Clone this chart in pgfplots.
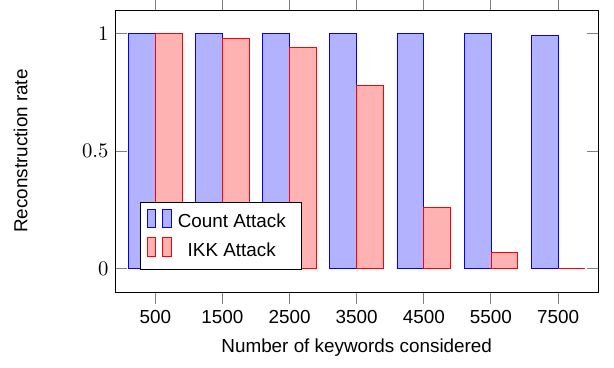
\documentclass[border=0pt]{standalone}
\usepackage{fontspec}
\setmainfont{Liberation Sans}
\setsansfont{Liberation Sans}
\usepackage{pgfplots}
\pgfplotsset{compat=1.18}
\usepackage{pgfplotstable}

% Reconstruction rate per dictionary size (index 0..6 on the x axis)
\pgfplotstableread{
idx count ikk
0   1.00  1.00
1   1.00  0.98
2   1.00  0.94
3   1.00  0.78
4   1.00  0.26
5   1.00  0.07
6   0.99  0.00
}\rates

\begin{document}
\begin{tikzpicture}
\begin{axis}[
  name=ax,
  scale only axis,
  width=256.1pt, height=149.5pt,
  ybar=0pt,
  bar width=0.4,
  xmin=-0.6, xmax=6.6,
  ymin=-0.1, ymax=1.1,
  xtick=data,
  xticklabels={\textsf{500},\textsf{1500},\textsf{2500},\textsf{3500},\textsf{4500},\textsf{5500},\textsf{7500}},
  ytick={0,0.5,1},
  xtick pos=both,
  xtick align=outside,
  ytick align=inside,
  major tick length=6.1pt,
  tick style={gray, line width=0.5pt},
  xticklabel style={font=\fontsize{10}{12}\selectfont\sffamily},
  yticklabel style={font=\fontsize{11}{13}\selectfont},
  label style={font=\fontsize{10}{12}\selectfont},
  xlabel={Number of keywords considered},
  ylabel={Reconstruction rate},
  ylabel style={yshift=22pt},
  xlabel style={yshift=-1pt},
  legend style={
    at={(0.052,0.078)}, anchor=south west,
    font=\fontsize{10}{12}\selectfont,
    draw=black, fill=white,
    inner xsep=3pt, inner ysep=3.5pt,
    row sep=1.5pt,
    nodes={inner sep=2pt, anchor=base},
  },
  legend cell align=center,
  legend image code/.code={
    \path (-0.3pt,0pt) (14pt,0pt);
    \draw[#1] (0pt,0pt) rectangle (4.4pt,10pt);
    \draw[#1] (8.1pt,0pt) rectangle (12.7pt,10pt);
  },
]
\addplot[draw=blue, fill=blue!30] table[x=idx, y=count] {\rates};
\addplot[draw=red, fill=red!30] table[x=idx, y=ikk] {\rates};
\legend{Count Attack\kern3pt, IKK Attack\kern3pt}
\end{axis}
\pgfresetboundingbox
\path[use as bounding box]
  ([shift={(-61pt,-39.75pt)}]ax.south west) rectangle
  ([shift={(8.3pt,5.3pt)}]ax.north east);
\end{tikzpicture}
\end{document}
